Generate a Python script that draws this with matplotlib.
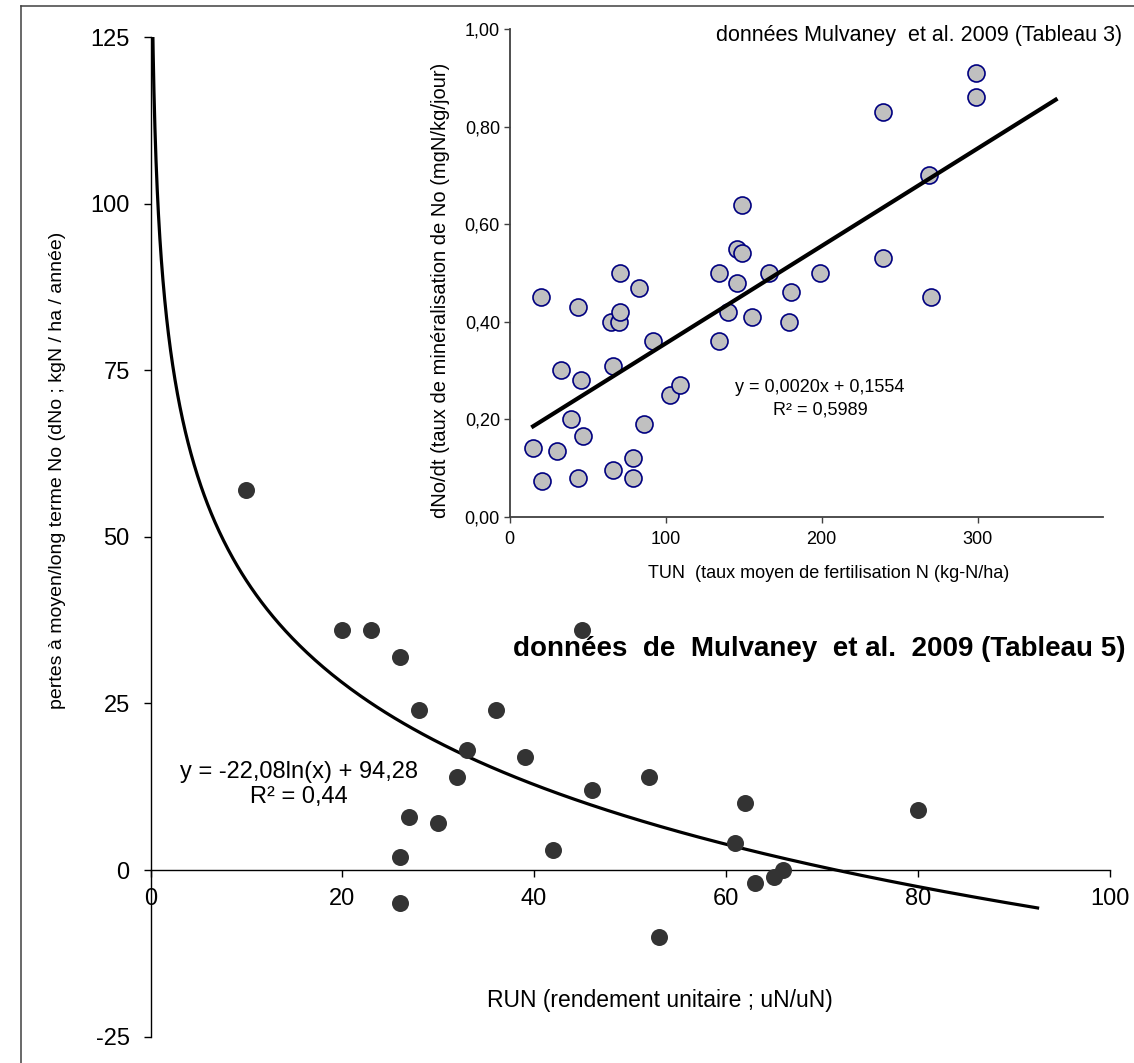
import matplotlib
matplotlib.use("Agg")
import matplotlib.pyplot as plt
import numpy as np
from matplotlib.lines import Line2D

plt.rcParams['font.family'] = ['Liberation Sans', 'DejaVu Sans']
plt.rcParams['axes.unicode_minus'] = False

# Main chart: Mulvaney et al. 2009, Tableau 5
run_x = [10, 20, 23, 26, 28, 36, 33, 32, 39, 27, 30, 26, 26, 42,
         45, 46, 52, 53, 61, 62, 63, 65, 66, 80]
loss_y = [57, 36, 36, 32, 24, 24, 18, 14, 17, 8, 7, 2, -5, 3,
          36, 12, 14, -10, 4, 10, -2, -1, 0, 9]
log_a, log_b = -22.08, 94.28
log_range = (0.2, 92.5)

# Inset: Mulvaney et al. 2009, Tableau 3
tun_x = [20, 44, 71, 83, 65, 70, 71, 92, 33, 46, 66, 103, 109, 39, 47,
         15, 30, 86, 79, 21, 44, 66, 79, 134, 146, 166, 199, 140, 155,
         180, 179, 134, 149, 146, 149, 299, 299, 239, 269, 239, 270]
rate_y = [0.45, 0.43, 0.50, 0.47, 0.40, 0.40, 0.42, 0.36, 0.30, 0.28, 0.31,
          0.25, 0.27, 0.20, 0.165, 0.14, 0.135, 0.19, 0.12, 0.073, 0.08,
          0.095, 0.08, 0.50, 0.48, 0.50, 0.50, 0.42, 0.41, 0.46, 0.40,
          0.36, 0.64, 0.55, 0.54, 0.91, 0.86, 0.83, 0.70, 0.53, 0.45]
lin_a, lin_b = 0.0020, 0.1554
lin_end = 350

W, H = 1134, 1063
fig = plt.figure(figsize=(W / 100, H / 100), dpi=100)

def fx(px):
    return px / W

def fy(py):
    return 1 - py / H

# ---- main axes
ax = fig.add_axes([fx(150.5), fy(1036.7), fx(959), 999.7 / H])
ax.set_xlim(0, 100)
ax.set_ylim(-25, 125)
ax.scatter(run_x, loss_y, s=150, color='#333333', zorder=3, linewidths=0)
xs = np.geomspace(log_range[0], log_range[1], 500)
ax.plot(xs, log_a * np.log(xs) + log_b, color='black', lw=2.3, zorder=2)

for s in ['top', 'right']:
    ax.spines[s].set_visible(False)
ax.spines['bottom'].set_position(('data', 0))
for s in ['left', 'bottom']:
    ax.spines[s].set_color('black')
    ax.spines[s].set_linewidth(1)
ax.set_xticks(np.arange(0, 101, 20))
ax.set_yticks(np.arange(-25, 126, 25))
ax.tick_params(axis='both', direction='out', length=5, width=1, labelsize=17)
ax.tick_params(axis='x', pad=8)
ax.tick_params(axis='y', pad=10)
ax.patch.set_alpha(0)

fig.text(fx(58), fy(470), 'pertes à moyen/long terme No (dNo ; kgN / ha / année)',
         rotation=90, ha='center', va='center', fontsize=14)
fig.text(fx(660), fy(1000), 'RUN (rendement unitaire ; uN/uN)',
         ha='center', va='center', fontsize=16.5)
fig.text(fx(299), fy(772), 'y = -22,08ln(x) + 94,28', ha='center', va='center', fontsize=17)
fig.text(fx(299), fy(797), 'R² = 0,44', ha='center', va='center', fontsize=17)
fig.text(fx(513), fy(649), 'données  de  Mulvaney  et al.  2009 (Tableau 5)',
         ha='left', va='center', fontsize=20, fontweight='bold')

# ---- inset axes
ins = fig.add_axes([fx(509.7), fy(516.7), fx(592.8), 487.5 / H])
ins.set_xlim(0, 380)
ins.set_ylim(0, 1)
ins.scatter(tun_x, rate_y, s=150, facecolor='#c0c0c0', edgecolor='#000080',
            linewidths=1.2, zorder=3, clip_on=False)
lx = np.array([min(tun_x), lin_end])
ins.plot(lx, lin_a * lx + lin_b, color='black', lw=3, zorder=4)
for s in ['top', 'right']:
    ins.spines[s].set_visible(False)
for s in ['left', 'bottom']:
    ins.spines[s].set_color('#404040')
    ins.spines[s].set_linewidth(1.3)
ins.set_xticks([0, 100, 200, 300])
ins.set_yticks(np.arange(0, 1.01, 0.2))
ins.set_yticklabels([f'{v:.2f}'.replace('.', ',') for v in np.arange(0, 1.01, 0.2)])
ins.tick_params(axis='both', direction='out', length=4, width=1, color='#404040',
                labelsize=13)
ins.tick_params(axis='x', pad=6)
ins.tick_params(axis='y', pad=3)
ins.patch.set_alpha(0)

fig.text(fx(1122), fy(35), 'données Mulvaney  et al. 2009 (Tableau 3)',
         ha='right', va='center', fontsize=15.5)
fig.text(fx(829), fy(574), 'TUN  (taux moyen de fertilisation N (kg-N/ha)',
         ha='center', va='center', fontsize=13)
fig.text(fx(440), fy(290), 'dNo/dt (taux de minéralisation de No (mgN/kg/jour)',
         rotation=90, ha='center', va='center', fontsize=14.5)
fig.text(fx(820), fy(388), 'y = 0,0020x + 0,1554', ha='center', va='center', fontsize=13)
fig.text(fx(820), fy(410), 'R² = 0,5989', ha='center', va='center', fontsize=13)

# chart border (left and top edges visible)
fig.add_artist(Line2D([fx(20.5), fx(20.5)], [0, fy(5.5)], color='#404040', lw=1.1))
fig.add_artist(Line2D([fx(20.5), 1], [fy(5.5), fy(5.5)], color='#404040', lw=1.1))

fig.savefig('out.png', dpi=100)
